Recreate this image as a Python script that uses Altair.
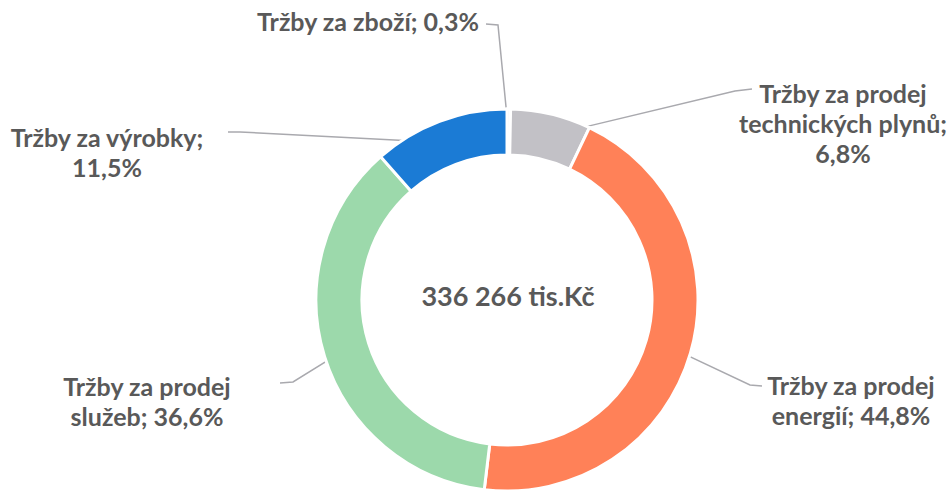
import altair as alt
import pandas as pd
import numpy as np

# ---- data ----
categories = ["Tržby za zboží", "Tržby za prodej technických plynů", "Tržby za prodej energií",
              "Tržby za prodej služeb", "Tržby za výrobky"]
shares = [0.3, 6.8, 44.8, 36.6, 11.5]
label_texts = ["Tržby za zboží; 0,3%",
               "Tržby za prodej\ntechnických plynů;\n6,8%",
               "Tržby za prodej\nenergií; 44,8%",
               "Tržby za prodej\nslužeb; 36,6%",
               "Tržby za výrobky;\n11,5%"]
total_label = "336 266 tis.Kč"

# ---- styles / layout ----
colors = ["#EDEDED", "#C2C1C6", "#FF8158", "#9CD9AB", "#1B7BD5"]
CX, CY = 507, 300
R_OUT, R_IN = 191, 145
label_x = [368, 843, 851, 147, 107]
label_y = [23, 95, 387, 388, 139]
# leader lines: outer end (at label), elbow, then point on slice
lead_x0 = [486, 752, 762, 280, 228]
lead_y0 = [24, 89, 386, 383, 132]
lead_x1 = [498, 735, 750, 293, 240]
lead_y1 = [25, 91, 385, 382, 132]
lead_r = [167, 190, 170, 172, 168]
lead_shift_deg = [0, 11, 0, 0, 0]
TEXT_COLOR = "#595959"
FONT = "Lato, sans-serif"
FS = 25

df = pd.DataFrame({"idx": range(len(categories)), "category": categories,
                   "share": shares, "label": label_texts,
                   "lx": label_x, "ly": label_y})

# slice mid-angles from the data
cum = np.cumsum(shares)
total = float(sum(shares))
mid_deg = (cum - np.array(shares) / 2) / total * 360.0

rows = []
for i in range(len(categories)):
    a = np.deg2rad(mid_deg[i] + lead_shift_deg[i])
    ex = CX + lead_r[i] * np.sin(a)
    ey = CY - lead_r[i] * np.cos(a)
    rows += [
        {"g": i, "p": 0, "x": lead_x0[i], "y": lead_y0[i]},
        {"g": i, "p": 1, "x": lead_x1[i], "y": lead_y1[i]},
        {"g": i, "p": 2, "x": float(ex), "y": float(ey)},
    ]
leaders = pd.DataFrame(rows)

arcs = alt.Chart(df).mark_arc(innerRadius=R_IN, outerRadius=R_OUT, stroke="white", strokeWidth=3).encode(
    theta=alt.Theta("share:Q", stack=True),
    color=alt.Color("category:N", scale=alt.Scale(domain=categories, range=colors), legend=None),
    order=alt.Order("idx:Q"),
    x=alt.value(CX),
    y=alt.value(CY),
)

lines = alt.Chart(leaders).mark_line(color="#A9A9AE", strokeWidth=1.5).encode(
    x=alt.X("x:Q", scale=None, axis=None),
    y=alt.Y("y:Q", scale=None, axis=None),
    detail="g:N",
    order="p:Q",
)

labels = alt.Chart(df).mark_text(font=FONT, fontSize=FS, fontWeight="bold", color=TEXT_COLOR,
                                 lineBreak="\n", lineHeight=30, align="center", baseline="middle").encode(
    x=alt.X("lx:Q", scale=None, axis=None),
    y=alt.Y("ly:Q", scale=None, axis=None),
    text="label:N",
)

center = alt.Chart(pd.DataFrame({"t": [total_label]})).mark_text(
    font=FONT, fontSize=27, fontWeight="bold", color=TEXT_COLOR, align="center", baseline="middle"
).encode(x=alt.value(CX + 1), y=alt.value(CY - 2), text="t:N")

chart = alt.layer(lines, arcs, labels, center).properties(
    width=949, height=491, padding=0, autosize=alt.AutoSizeParams(type="none"),
    background="white",
).configure_view(stroke=None)

chart.save("out.html", embed_options={"renderer": "svg", "actions": False})
